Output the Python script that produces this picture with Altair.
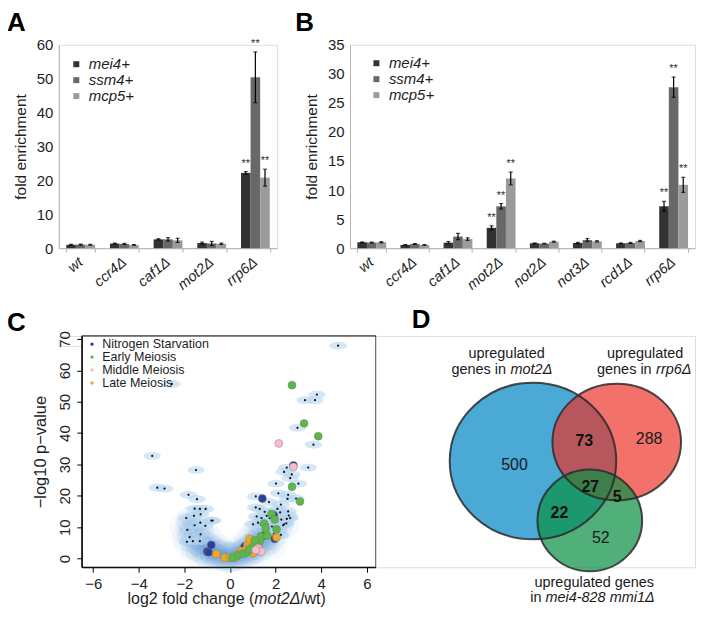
import altair as alt
import pandas as pd

FONT = "Liberation Sans"
INK = "#1e1e1e"
AXIS_GREY = "#b3b3b3"

# ---------------- Panels A / B : ChIP fold enrichment ----------------
genes = ["mei4+", "ssm4+", "mcp5+"]
gene_colors = ["#323232", "#686868", "#9b9b9b"]

strains_A = ["wt", "ccr4Δ", "caf1Δ", "mot2Δ", "rrp6Δ"]
A_mei4 = [1.0, 1.35, 2.6, 1.5, 22.2]
A_ssm4 = [1.05, 1.25, 2.6, 1.4, 50.4]
A_mcp5 = [1.0, 0.95, 2.3, 1.3, 20.8]
A_err_mei4 = [0.15, 0.15, 0.2, 0.3, 0.4]
A_err_ssm4 = [0.15, 0.15, 0.5, 0.6, 7.5]
A_err_mcp5 = [0.12, 0.1, 0.6, 0.2, 2.5]
A_sig = ["", "", "", "", "**"]

strains_B = ["wt", "ccr4Δ", "caf1Δ", "mot2Δ", "not2Δ", "not3Δ", "rcd1Δ", "rrp6Δ"]
B_mei4 = [1.0, 0.56, 0.95, 3.5, 0.84, 0.9, 0.84, 7.2]
B_ssm4 = [0.97, 0.73, 2.0, 7.2, 0.78, 1.4, 0.9, 27.7]
B_mcp5 = [1.02, 0.56, 1.56, 12.0, 1.12, 1.17, 1.23, 10.9]
B_err_mei4 = [0.08, 0.05, 0.2, 0.35, 0.06, 0.1, 0.06, 0.85]
B_err_ssm4 = [0.08, 0.06, 0.55, 0.47, 0.06, 0.25, 0.08, 1.75]
B_err_mcp5 = [0.1, 0.06, 0.22, 1.1, 0.08, 0.12, 0.1, 1.3]
B_sig = ["", "", "", "**", "", "", "", "**"]

# ---------------- Panel C : volcano plot ----------------
dots_x = [4.74, -2.55, -3.41, -3.19, -2.87, -1.49, -1.82, -1.45, -1.55, -1.32, -1.07,
          -1.92, -1.58, -1.29, -0.82, -0.76, -1.30, -1.87, -1.55, -1.77, -1.63, -1.89,
          -1.29, -1.32, -1.08,
          3.81, 3.29, 3.73, 2.96, 3.66, 2.49, 2.37, 3.43, 2.71, 2.64, 2.02, 3.00, 2.12,
          2.55, 2.52, 2.90, 1.13, 1.71, 2.23, 2.08, 1.93, 2.20, 2.55, 2.58, 2.49, 2.25,
          2.47, 2.64, 2.37, 1.99, 1.74, 1.13, 1.30, 1.52, 1.61, 1.17, 1.38, 1.82, 1.23,
          1.01, 1.35, 1.64, 1.84, 1.96, 2.11, 2.23, 1.92, 2.33]
dots_y = [67.9, 55.7, 32.7, 22.6, 22.3, 28.2, 20.3, 18.9, 15.9, 15.8, 15.8,
          12.9, 13.6, 14.1, 12.1, 12.1, 11.4, 9.1, 10.6, 6.8, 5.5, 5.3,
          7.7, 5.5, 10.4,
          52.3, 50.5, 50.5, 41.7, 36.3, 29.0, 27.6, 29.0, 26.8, 25.6, 23.9, 23.9, 20.8,
          20.3, 19.0, 19.1, 19.8, 18.0, 17.2, 15.8, 14.9, 14.7, 15.0, 13.7, 12.6, 12.4,
          11.2, 12.9, 10.9, 12.4, 12.9, 16.3, 15.8, 14.9, 13.6, 13.4, 12.9, 13.6, 11.4,
          10.9, 10.9, 10.9, 10.2, 9.3, 8.5, 7.5, 7.8, 10.6]

cloud_x = [-2.0, -1.9, -1.8, -1.7, -1.6, -1.5, -1.4, -1.3, -1.2, -1.1, -1.0, -0.9, -0.8,
           -0.7, -0.6, -0.5, -0.4, -0.3, -0.2, -0.1, 0.0, 0.1, 0.2, 0.3, 0.4, 0.5, 0.6,
           0.7, 0.8, 0.9, 1.0, 1.1, 1.2, 1.3, 1.4, 1.5, 1.6, 1.7, 1.8, 1.9, 2.0, 2.1,
           2.2, 2.4, -1.7, -1.4, 1.2, 1.5, 1.0, 0.8, -0.8, -1.1, 0.5, -0.5, -1.5, 1.8,
           -0.9, 1.1, -0.3, 0.3]
cloud_y = [10.0, 7.0, 5.0, 12.0, 8.0, 4.0, 6.0, 3.0, 5.0, 2.5, 3.5, 1.5, 2.5,
           1.2, 2.0, 0.8, 1.2, 0.5, 0.8, 0.3, 0.2, 0.4, 0.8, 0.5, 1.2, 1.0, 2.0,
           1.5, 2.8, 2.2, 3.8, 3.0, 5.0, 4.0, 6.5, 5.0, 8.0, 6.0, 10.0, 7.5, 12.0, 9.0,
           14.0, 11.0, 12.0, 10.0, 9.0, 11.0, 7.0, 5.0, 5.0, 8.0, 3.0, 3.0, 2.0, 4.0,
           0.8, 1.2, 1.5, 1.8]

categories = ["Nitrogen Starvation", "Early Meiosis", "Middle Meiosis", "Late Meiosis"]
cat_colors = ["#2e3f98", "#5cb749", "#f6bccb", "#f5a623"]

nitro_x = [2.78, 1.42, 1.92, 1.96, 1.49, -0.82, -1.0, -0.94, 0.64, 1.01]
nitro_y = [29.7, 19.1, 13.8, 6.3, 7.3, 4.3, 2.2, 2.0, 3.8, 5.1]
late_x = [-0.60, -0.23, -0.01, 0.20, 0.28, 0.47, 0.76, 0.86, 0.69, 1.05, 1.23, 2.04,
          0.86, 0.35, 1.01]
late_y = [1.4, 0.2, 0.4, 0.2, 0.7, 2.4, 4.3, 4.8, 2.7, 2.2, 4.3, 6.8, 6.3, 1.2, 1.7]
early_x = [2.72, 3.25, 3.87, 2.72, 3.07, 1.82, 1.96, 1.49, 1.57, 2.04, 1.35, 1.64,
           1.30, 1.19, 0.98, 0.79, 0.64, 0.47, 0.28, 0.09, 1.08, 0.86]
early_y = [55.3, 43.1, 39.0, 22.9, 18.2, 14.2, 12.4, 11.2, 9.6, 9.3, 7.1, 7.3,
           5.5, 4.3, 3.5, 2.2, 1.7, 1.4, 0.8, 0.2, 5.8, 3.0]
middle_x = [2.14, 2.78, 1.23, 1.38, 1.13]
middle_y = [36.7, 29.2, 3.3, 2.2, 2.7]

# ---------------- Panel D : Venn diagram ----------------
venn_sets = ["mot2", "rrp6", "mmi1"]
venn_cx = [157.5, 241.5, 214.5]
venn_cy = [125.5, 106.5, 185.0]
venn_rx = [83.5, 64.5, 52.5]
venn_ry = [78.5, 58.5, 51.0]
venn_fill = ["#4aaad5", "#ec2e24", "#0a8f43"]
venn_alpha = [1.0, 0.68, 0.71]

venn_counts = ["500", "73", "288", "27", "5", "22", "52"]
venn_count_x = [139, 209, 274, 215, 242, 184, 225.5]
venn_count_y = [129.5, 105, 103, 151.5, 161.5, 178, 203]
venn_count_bold = [False, True, False, True, True, True, False]


# ======================================================================
def bar_df(strains, series, errs, sig):
    rows = []
    for g, vals, es in zip(genes, series, errs):
        for s, v, e, st in zip(strains, vals, es, sig):
            rows.append(dict(strain=s, gene=g, value=v, lo=v - e, hi=v + e, sig=st))
    return pd.DataFrame(rows)


def bar_panel(df, strains, ymax, ystep, width, height, letter, letter_dx, lx, ly):
    x = alt.X("strain:N", sort=strains, title=None,
              scale=alt.Scale(paddingInner=0.34, paddingOuter=0.17),
              axis=alt.Axis(labelAngle=-40, labelAlign="right", labelBaseline="middle",
                            labelFontSize=14.5, labelFontStyle="italic", labelColor=INK,
                            labelPadding=8, domainColor=AXIS_GREY, tickColor=AXIS_GREY,
                            tickSize=4, tickBand="extent", labelOverlap=False))
    xo = alt.XOffset("gene:N", sort=genes, scale=alt.Scale(paddingInner=0, paddingOuter=0))
    yax = alt.Axis(values=list(range(0, ymax + 1, ystep)), grid=False, ticks=False,
                   domainColor=AXIS_GREY, labelFontSize=15, labelColor=INK,
                   labelPadding=6, titleFontSize=15.5, titleFontWeight="normal",
                   titleColor=INK, titlePadding=8, labelOverlap=False)
    ysc = alt.Scale(domain=[0, ymax], nice=False)
    ttl = "fold enrichment"
    base = alt.Chart(df)
    bars = base.mark_bar().encode(
        x=x, xOffset=xo,
        y=alt.Y("value:Q", scale=ysc, axis=yax, title=ttl),
        color=alt.Color("gene:N", sort=genes,
                        scale=alt.Scale(domain=genes, range=gene_colors),
                        legend=alt.Legend(title=None, orient="none", legendX=lx, legendY=ly,
                                          symbolType="square", symbolSize=36,
                                          symbolStrokeWidth=0, labelFontSize=15,
                                          labelFontStyle="italic", labelColor=INK,
                                          rowPadding=0, labelOffset=5, padding=0)))
    rules = base.mark_rule(color="black", strokeWidth=1.2).encode(
        x=x, xOffset=xo,
        y=alt.Y("lo:Q", scale=ysc, axis=yax, title=ttl), y2="hi:Q")
    cap_hi = base.mark_tick(color="black", size=4, thickness=1.2).encode(
        x=x, xOffset=xo, y=alt.Y("hi:Q", scale=ysc, axis=yax, title=ttl))
    cap_lo = base.mark_tick(color="black", size=4, thickness=1.2).encode(
        x=x, xOffset=xo, y=alt.Y("lo:Q", scale=ysc, axis=yax, title=ttl))
    stars = base.transform_filter("datum.sig != ''").mark_text(
        baseline="bottom", dy=-3, fontSize=11, color="#333333").encode(
        x=x, xOffset=xo, y=alt.Y("hi:Q", scale=ysc, axis=yax, title=ttl),
        text="sig:N")
    lab = alt.Chart(pd.DataFrame({"t": [letter]})).mark_text(
        fontSize=26, fontWeight="bold", align="left", baseline="top", color="black").encode(
        text="t:N", x=alt.value(letter_dx), y=alt.value(-35))
    return alt.layer(bars, rules, cap_hi, cap_lo, stars, lab).properties(
        width=width, height=height)


dfA = bar_df(strains_A, [A_mei4, A_ssm4, A_mcp5], [A_err_mei4, A_err_ssm4, A_err_mcp5], A_sig)
dfB = bar_df(strains_B, [B_mei4, B_ssm4, B_mcp5], [B_err_mei4, B_err_ssm4, B_err_mcp5], B_sig)

panelA = bar_panel(dfA, strains_A, 60, 10, 219, 204, "A", -52, 10, 12)
panelB = bar_panel(dfB, strains_B, 35, 5, 346, 204, "B", -55, 19, 11)

# ---------------- Panel C ----------------
CW, CH = 295, 232
xsc = alt.Scale(domain=[-6.5, 6.4], nice=False, zero=False)
ysc_c = alt.Scale(domain=[-2.8, 71], nice=False, zero=False)
xC = alt.X("x:Q", scale=xsc, title=None,
           axis=alt.Axis(values=[-6, -4, -2, 0, 2, 4, 6], grid=False, labelFontSize=15,
                         labelColor=INK, tickColor="black", domainColor="black",
                         tickSize=5, labelPadding=4))
yC = alt.Y("y:Q", scale=ysc_c, title="−log10 p−value",
           axis=alt.Axis(values=[0, 10, 20, 30, 40, 50, 60, 70], grid=False,
                         labelAngle=-90, labelAlign="center", labelBaseline="bottom",
                         labelFontSize=15, labelColor=INK, tickColor="black",
                         domainColor="black", tickSize=5, labelPadding=4,
                         titleFontSize=16.5, titleFontWeight="normal", titleColor=INK,
                         titlePadding=9, labelOverlap=False))

cloud_df = pd.DataFrame({"x": cloud_x, "y": cloud_y})
dots_df = pd.DataFrame({"x": dots_x, "y": dots_y})
col_rows = []
for cat, xs, ys in [("Nitrogen Starvation", nitro_x, nitro_y),
                    ("Late Meiosis", late_x, late_y),
                    ("Early Meiosis", early_x, early_y),
                    ("Middle Meiosis", middle_x, middle_y)]:
    for a, b in zip(xs, ys):
        col_rows.append(dict(x=a, y=b, cat=cat))
col_df = pd.DataFrame(col_rows)

halo_shape = "M-1,0A1,0.45 0 1,1 1,0A1,0.45 0 1,1 -1,0Z"

cloud0 = alt.Chart(cloud_df).mark_circle(size=900, color="#8dbde6", opacity=0.07).encode(x=xC, y=yC)
cloud = alt.Chart(cloud_df).mark_circle(size=380, color="#6aa9dc", opacity=0.09).encode(x=xC, y=yC)
cloud2 = alt.Chart(cloud_df).mark_circle(size=120, color="#4a90cf", opacity=0.08).encode(x=xC, y=yC)
halos = alt.Chart(dots_df).mark_point(shape=halo_shape, filled=True, size=300,
                                      color="#b3d3ef", opacity=0.55, strokeWidth=0).encode(x=xC, y=yC)
dots = alt.Chart(dots_df).mark_circle(size=5, color="#111111", opacity=1).encode(x=xC, y=yC)
colored = alt.Chart(col_df).mark_circle(size=64, opacity=1, stroke="#777777",
                                         strokeWidth=0.4).encode(
    x=xC, y=yC,
    color=alt.Color("cat:N", scale=alt.Scale(domain=categories, range=cat_colors),
                    legend=alt.Legend(title=None, orient="none", legendX=4, legendY=2,
                                      symbolType="circle", symbolSize=12,
                                      symbolStrokeWidth=0, labelFontSize=12.5,
                                      labelColor=INK, rowPadding=0, labelOffset=4,
                                      padding=0)))
frame = alt.Chart(pd.DataFrame({"t": [0]})).mark_rect(fill=None, stroke="black",
                                                      strokeWidth=1).encode(
    x=alt.value(0), x2=alt.value(CW), y=alt.value(0), y2=alt.value(CH))
XT_Y = 269
xt1 = alt.Chart(pd.DataFrame({"t": ["log2 fold change ("]})).mark_text(
    fontSize=16, align="right", baseline="alphabetic", color=INK).encode(
    text="t:N", x=alt.value(173), y=alt.value(XT_Y))
xt2 = alt.Chart(pd.DataFrame({"t": ["mot2Δ"]})).mark_text(
    fontSize=16, fontStyle="italic", align="left", baseline="alphabetic", color=INK).encode(
    text="t:N", x=alt.value(173), y=alt.value(XT_Y))
xt3 = alt.Chart(pd.DataFrame({"t": ["/wt)"]})).mark_text(
    fontSize=16, align="left", baseline="alphabetic", color=INK).encode(
    text="t:N", x=alt.value(219), y=alt.value(XT_Y))
labC = alt.Chart(pd.DataFrame({"t": ["C"]})).mark_text(
    fontSize=26, fontWeight="bold", align="left", baseline="top", color="black").encode(
    text="t:N", x=alt.value(-75), y=alt.value(-26))

panelC = alt.layer(cloud0, cloud, cloud2, halos, dots, colored, frame, xt1, xt2, xt3,
                   labC).properties(width=CW, height=CH)

# ---------------- Panel D ----------------
DW, DH = 320, 232
xD = alt.X("x:Q", scale=alt.Scale(domain=[0, DW], nice=False, zero=False), axis=None)
yD = alt.Y("y:Q", scale=alt.Scale(domain=[0, DH], nice=False, zero=False, reverse=True), axis=None)

venn_df = pd.DataFrame({"set": venn_sets, "x": venn_cx, "y": venn_cy, "rx": venn_rx,
                        "ry": venn_ry, "fill": venn_fill, "alpha": venn_alpha})


def ellipse_path(ratio):
    return f"M-1,0A1,{ratio:.4f} 0 1,1 1,0A1,{ratio:.4f} 0 1,1 -1,0Z"


venn_fills = []
venn_lines = []
for i, row in venn_df.iterrows():
    shp = ellipse_path(row["ry"] / row["rx"])
    sz = (2 * row["rx"]) ** 2
    sub = alt.Chart(venn_df).transform_filter(f"datum.set == '{row['set']}'")
    venn_fills.append(sub.mark_point(shape=shp, filled=True, size=sz, fill=row["fill"],
                                     opacity=row["alpha"], strokeWidth=0).encode(x=xD, y=yD))
    venn_lines.append(sub.mark_point(shape=shp, filled=False, size=sz, color="#2b2b2b",
                                     opacity=0.85, strokeWidth=2).encode(x=xD, y=yD))

cnt_df = pd.DataFrame({"t": venn_counts, "x": venn_count_x, "y": venn_count_y,
                       "bold": venn_count_bold})
cnt_norm = alt.Chart(cnt_df).transform_filter("!datum.bold").mark_text(
    fontSize=16, color="#1a1a1a", baseline="middle").encode(x=xD, y=yD, text="t:N")
cnt_bold = alt.Chart(cnt_df).transform_filter("datum.bold").mark_text(
    fontSize=16, fontWeight="bold", color="#111111", baseline="middle").encode(x=xD, y=yD, text="t:N")

lab_text = ["upregulated", "genes in", "upregulated", "genes in", "upregulated genes", "in"]
lab_x = [131, 130.5, 270, 276.5, 219, 166]
lab_y = [22, 38, 22, 38, 252, 267]
lab_align = ["center", "right", "center", "right", "center", "right"]
ital_text = ["mot2Δ", "rrp6Δ", "mei4-828 mmi1Δ"]
ital_x = [135, 281, 170]
ital_y = [38, 38, 267]

lab_df = pd.DataFrame({"t": lab_text, "x": lab_x, "y": lab_y, "al": lab_align})
lab_layers = []
for al in ["center", "right"]:
    lab_layers.append(alt.Chart(lab_df).transform_filter(f"datum.al == '{al}'").mark_text(
        fontSize=14.5, color="#1a1a1a", align=al, baseline="alphabetic").encode(
        x=xD, y=yD, text="t:N"))
ital_df = pd.DataFrame({"t": ital_text, "x": ital_x, "y": ital_y})
ital_layer = alt.Chart(ital_df).mark_text(fontSize=14.5, fontStyle="italic", color="#1a1a1a",
                                          align="left", baseline="alphabetic").encode(
    x=xD, y=yD, text="t:N")
labD = alt.Chart(pd.DataFrame({"t": ["D"]})).mark_text(
    fontSize=26, fontWeight="bold", align="left", baseline="top", color="black").encode(
    text="t:N", x=alt.value(36), y=alt.value(-29))

panelD = alt.layer(*venn_fills, *venn_lines, cnt_norm, cnt_bold, *lab_layers, ital_layer,
                   labD).properties(width=DW, height=DH)

spacer = alt.Chart(pd.DataFrame({"t": [""]})).mark_text().encode(
    text="t:N", x=alt.value(0), y=alt.value(0)).properties(width=23, height=10)

top = alt.hconcat(panelA, panelB, spacing=73, bounds="flush").resolve_scale(
    color="independent").resolve_legend(color="independent")
bottom = alt.hconcat(spacer, panelC, panelD, spacing=0, bounds="flush").resolve_scale(
    color="independent").resolve_legend(color="independent")

chart = alt.vconcat(top, bottom, spacing=13).resolve_scale(
    color="independent").resolve_legend(color="independent").properties(
    padding={"top": 0, "left": -2, "right": 0, "bottom": 0}).configure_view(
    stroke=None).configure(font=FONT)

chart.save("out.html", embed_options={"renderer": "svg", "actions": False})
